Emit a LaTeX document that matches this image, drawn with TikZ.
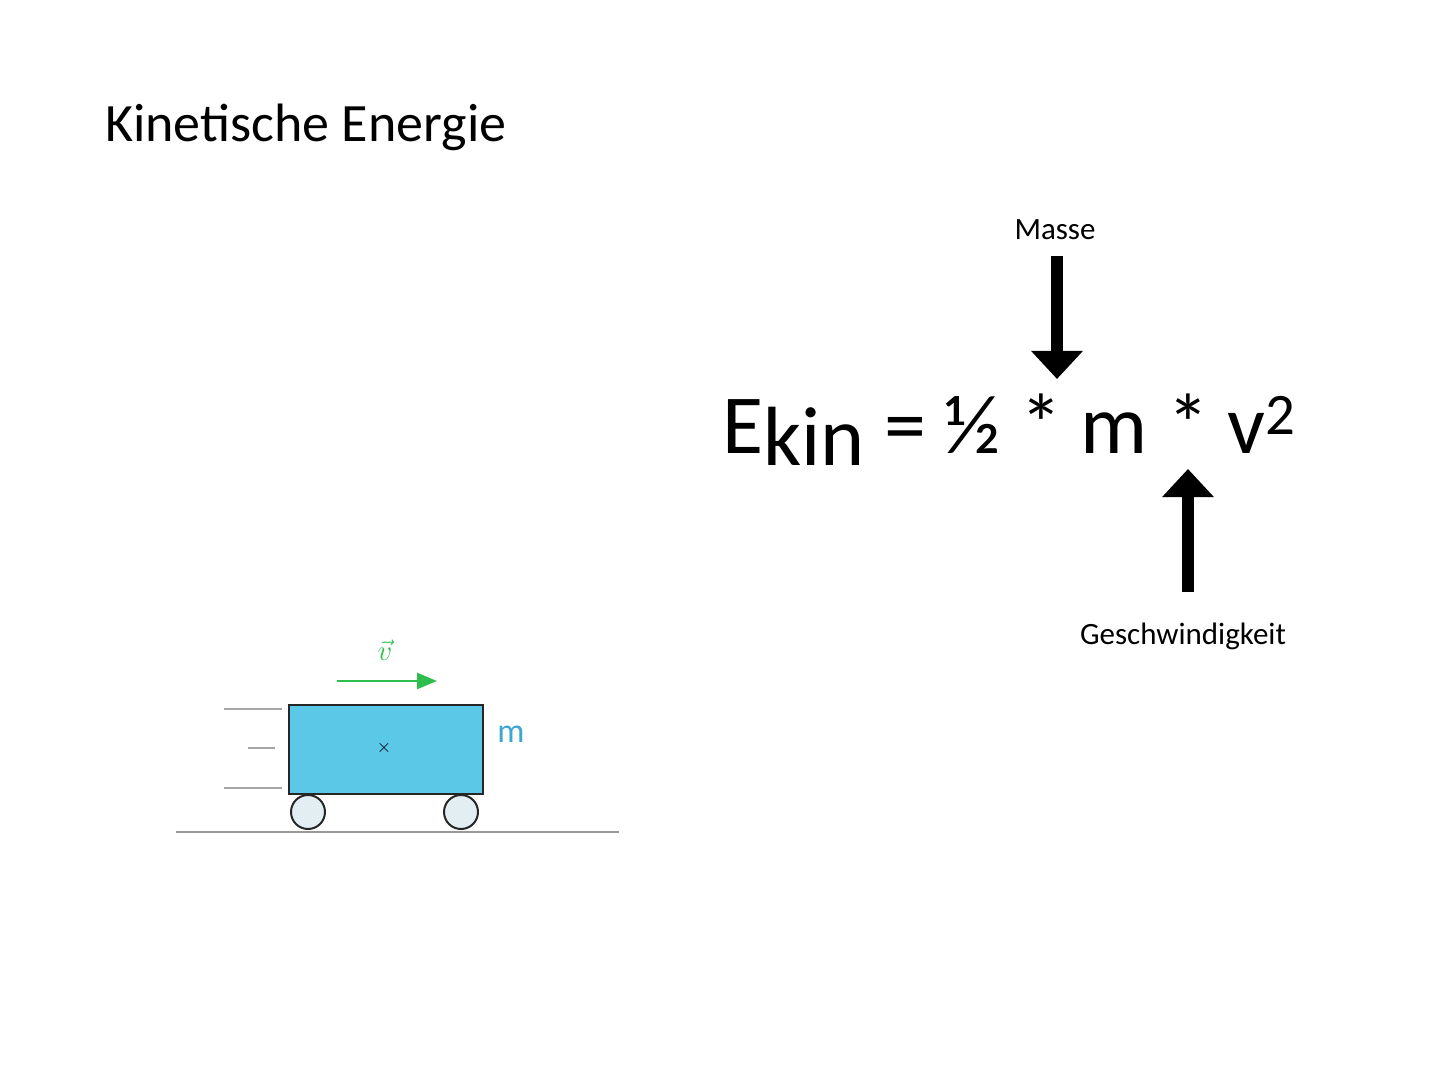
\documentclass[tikz,border=0pt]{standalone}
\usepackage{fontspec}
\setmainfont{Carlito}
\usetikzlibrary{arrows.meta}
\definecolor{boxblue}{HTML}{5BC8E8}
\definecolor{wheel}{HTML}{E2EEF2}
\definecolor{vgreen}{HTML}{2DBE4E}
\definecolor{mblue}{HTML}{3AA8D0}
\tikzset{px/.style={x=0.5pt,y=-0.5pt},
 speed/.style={draw=gray!70,line width=0.6pt},
 bigarrow/.style={-{Triangle[width=25pt,length=14pt]},line width=6pt}}
\begin{document}
\begin{tikzpicture}[px]
\useasboundingbox (0,0) rectangle (1440,1080);
\node[anchor=base west,font=\fontsize{27}{32}\selectfont] (title) at (98,142) {Kinetische Energie};
% formula
\node[anchor=base west,inner sep=0,font=\fontsize{42}{50}\selectfont] (formula) at (722,453) {E\raisebox{-0.3ex}{kin} = ½ * m * v\textsuperscript{2}};
\node[font=\fontsize{15.5}{18}\selectfont] (masse) at (1055,230) {Masse};
\coordinate (mtop) at (1057,256);
\coordinate (mbot) at (1057,379);
\draw[bigarrow] (mtop) -- (mbot);
\node[font=\fontsize{15.5}{18}\selectfont] (geschw) at (1183,636) {Geschwindigkeit};
\coordinate (gbot) at (1188,592);
\coordinate (gtop) at (1188,469);
\draw[bigarrow] (gbot) -- (gtop);
% cart
\draw[gray!80,line width=1.3pt] (176,832) -- (619,832);
\node[draw=black!85,fill=wheel,circle,line width=1pt,minimum size=17pt,inner sep=0] (w1) at (308,812) {};
\node[draw=black!85,fill=wheel,circle,line width=1pt,minimum size=17pt,inner sep=0] (w2) at (461,812) {};
\node[draw=black!85,fill=boxblue,line width=1pt,minimum width=97pt,minimum height=44.5pt,inner sep=0,anchor=north west] (cart) at (288,704) {};
\node[font=\fontsize{9}{10}\selectfont] (cm) at (384,748) {$\times$};
\node[font=\fontsize{17}{20}\selectfont,text=mblue] (m) at (511,734) {m};
\draw[speed] (224,709) -- (282,709);
\draw[speed] (248,748) -- (275,748);
\draw[speed] (224,788) -- (282,788);
\coordinate (va) at (337,681);
\coordinate (vb) at (437,681);
\draw[vgreen,line width=1.3pt,-{Triangle[width=8pt,length=10pt]}] (va) -- (vb);
\node[text=vgreen,font=\fontsize{15}{18}\selectfont] (vlab) at (385,650) {$\vec{v}$};
\end{tikzpicture}
\end{document}
